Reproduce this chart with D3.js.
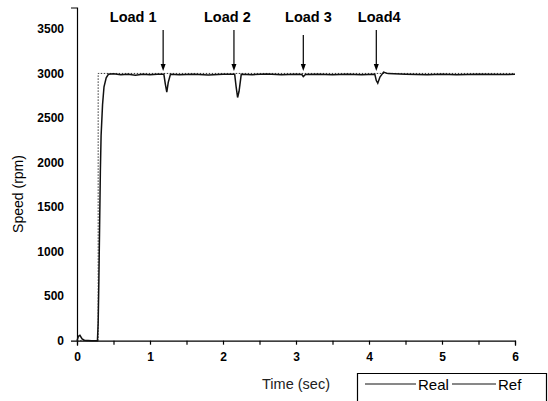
<!DOCTYPE html>
<html>
<head>
<meta charset="utf-8">
<script src="https://cdn.jsdelivr.net/npm/d3@7"></script>
<style>
  body { margin: 0; background: #fff; }
  svg { display: block; font-family: "Liberation Sans", Arial, sans-serif; }
  .axis path, .axis line { stroke: #000; stroke-width: 1.2; }
  .axis text { font-size: 12px; font-weight: bold; fill: #000; }
</style>
</head>
<body>
<svg id="chart" width="548" height="401"></svg>
<script>
// speed response, time in sec, speed in rpm
var realTime  = [0, 0.02, 0.04, 0.07, 0.1, 0.2, 0.28, 0.29, 0.3, 0.31, 0.32, 0.33, 0.35, 0.37, 0.4, 0.43,
                 0.5, 0.6, 0.7, 0.8, 0.9, 1.0, 1.1, 1.19, 1.21, 1.23, 1.25, 1.28,
                 1.4, 1.6, 1.8, 2.0, 2.16, 2.18, 2.2, 2.22, 2.25,
                 2.4, 2.6, 2.8, 3.0, 3.08, 3.1, 3.13, 3.3, 3.5, 3.7, 3.9, 4.08, 4.1, 4.12, 4.15, 4.2, 4.26,
                 4.5, 4.8, 5.0, 5.2, 5.5, 5.8, 6.0];
var realSpeed = [0, 50, 60, 20, 5, 0, 0, 200, 700, 1300, 1900, 2300, 2650, 2850, 2950, 2990,
                 2995, 2985, 2990, 2980, 2992, 2985, 2990, 2990, 2880, 2790, 2900, 2990,
                 2985, 2992, 2982, 2990, 2990, 2850, 2730, 2800, 2990,
                 2986, 2993, 2984, 2990, 2988, 2965, 2988, 2992, 2984, 2990, 2986, 2990, 2920, 2890, 2960, 3015, 2998,
                 2990, 2985, 2992, 2986, 2990, 2988, 2990];

var refTime  = [0, 0.29, 0.29, 6];
var refSpeed = [0, 0, 3000, 3000];

var loadNames = ['Load 1', 'Load 2', 'Load 3', 'Load4'];
var loadTimes = [1.18, 2.15, 3.1, 4.1];
var loadLabelTimes = [0.77, 2.06, 3.17, 4.14];

var xTicks = [0, 0.5, 1, 1.5, 2, 2.5, 3, 3.5, 4, 4.5, 5, 5.5, 6];
var yTicks = [0, 500, 1000, 1500, 2000, 2500, 3000, 3500];

var svg = d3.select('#chart');

var x = d3.scaleLinear().domain([0, 6]).range([77, 515]);
var y = d3.scaleLinear().domain([0, 3740]).range([340.7, 7.5]);

svg.append('g')
   .attr('class', 'axis')
   .attr('transform', 'translate(0,' + y(0) + ')')
   .call(d3.axisBottom(x).tickValues(xTicks).tickSizeInner(4).tickSizeOuter(5).tickPadding(8)
           .tickFormat(d => Number.isInteger(d) ? d : ''));

svg.append('g')
   .attr('class', 'axis')
   .attr('transform', 'translate(' + x(0) + ',0)')
   .call(d3.axisLeft(y).tickValues(yTicks).tickSizeInner(0).tickSizeOuter(6).tickPadding(13)
           .tickFormat(d3.format('d')));

var line = d3.line().x(d => x(d[0])).y(d => y(d[1]));

svg.append('path')
   .datum(refTime.map((t, i) => [t, refSpeed[i]]))
   .attr('fill', 'none')
   .attr('stroke', '#333')
   .attr('stroke-width', 1)
   .attr('stroke-dasharray', '1.5,1.5')
   .attr('d', line);

svg.append('path')
   .datum(realTime.map((t, i) => [t, realSpeed[i]]))
   .attr('fill', 'none')
   .attr('stroke', '#111')
   .attr('stroke-width', 1.5)
   .attr('d', line);

// load arrows and labels
loadTimes.forEach((t, i) => {
  var ax = x(t);
  svg.append('line')
     .attr('x1', ax).attr('x2', ax)
     .attr('y1', i == 2 ? 35 : 30).attr('y2', 66)
     .attr('stroke', '#000').attr('stroke-width', 1.2);
  svg.append('path')
     .attr('d', 'M' + (ax - 2.5) + ',64 L' + (ax + 2.5) + ',64 L' + ax + ',71 Z')
     .attr('fill', '#000');
  svg.append('text')
     .attr('x', x(loadLabelTimes[i]))
     .attr('y', 22)
     .attr('font-size', 14.5)
     .attr('font-weight', 'bold')
     .attr('text-anchor', 'middle')
     .text(loadNames[i]);
});

svg.append('text')
   .attr('transform', 'translate(23,194) rotate(-90)')
   .attr('text-anchor', 'middle')
   .attr('font-size', 14)
   .text('Speed (rpm)');

svg.append('text')
   .attr('x', 296)
   .attr('y', 389)
   .attr('text-anchor', 'middle')
   .attr('font-size', 14.5)
   .attr('fill', '#222')
   .text('Time (sec)');

// legend
var legend = svg.append('g');
legend.append('path')
      .attr('d', 'M357.5,402 L357.5,373.5 L546.5,373.5 L546.5,402')
      .attr('fill', 'none').attr('stroke', '#000').attr('stroke-width', 1.2);
legend.append('line').attr('x1', 365).attr('x2', 416).attr('y1', 384).attr('y2', 384)
      .attr('stroke', '#111').attr('stroke-width', 1);
legend.append('text').attr('x', 418).attr('y', 390).attr('font-size', 15).text('Real');
legend.append('line').attr('x1', 452).attr('x2', 496).attr('y1', 384).attr('y2', 384)
      .attr('stroke', '#111').attr('stroke-width', 1);
legend.append('text').attr('x', 498).attr('y', 390).attr('font-size', 15).text('Ref');
</script>
</body>
</html>
